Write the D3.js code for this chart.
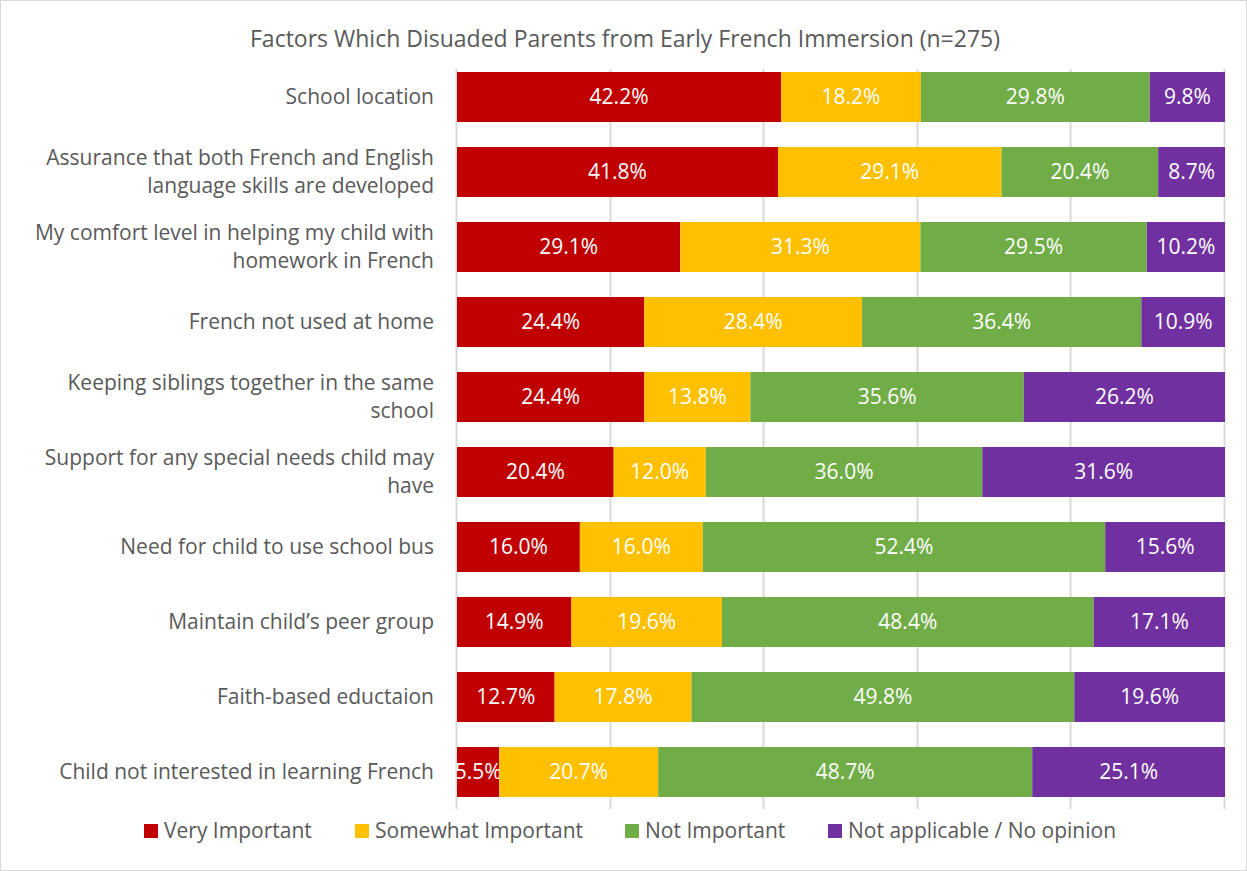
<!DOCTYPE html>
<html>
<head>
<meta charset="utf-8">
<script src="https://cdn.jsdelivr.net/npm/d3@7"></script>
<style>
  body { margin: 0; background: #fff; }
  svg { font-family: "Open Sans", sans-serif; }
</style>
</head>
<body>
<svg id="chart"></svg>
<script>
// Chart size
var width = 1247;
var height = 871;

// Data
var categories = [
    ["School location"],
    ["Assurance that both French and English", "language skills are developed"],
    ["My comfort level in helping my child with", "homework in French"],
    ["French not used at home"],
    ["Keeping siblings together in the same", "school"],
    ["Support for any special needs child may", "have"],
    ["Need for child to use school bus"],
    ["Maintain child\u2019s peer group"],
    ["Faith-based eductaion"],
    ["Child not interested in learning French"]
];
var seriesNames = ["Very Important", "Somewhat Important", "Not Important", "Not applicable / No opinion"];
var veryImportant = [42.2, 41.8, 29.1, 24.4, 24.4, 20.4, 16.0, 14.9, 12.7, 5.5];
var somewhatImportant = [18.2, 29.1, 31.3, 28.4, 13.8, 12.0, 16.0, 19.6, 17.8, 20.7];
var notImportant = [29.8, 20.4, 29.5, 36.4, 35.6, 36.0, 52.4, 48.4, 49.8, 48.7];
var notApplicable = [9.8, 8.7, 10.2, 10.9, 26.2, 31.6, 15.6, 17.1, 19.6, 25.1];
var colors = ["#C00000", "#FFC000", "#70AD47", "#7030A0"];
var ticks = [0, 0.2, 0.4, 0.6, 0.8, 1];

// Build rows for the stack
var rows = categories.map(function (c, i) {
    return { idx: i, s0: veryImportant[i], s1: somewhatImportant[i], s2: notImportant[i], s3: notApplicable[i] };
});
var keys = ["s0", "s1", "s2", "s3"];
var stacked = d3.stack().keys(keys).offset(d3.stackOffsetExpand)(rows);

var svg = d3.select("#chart")
    .attr("width", width)
    .attr("height", height);

// Chart border
svg.append("rect")
    .attr("x", 0.5).attr("y", 0.5)
    .attr("width", width - 1).attr("height", height - 1)
    .attr("fill", "#fff")
    .attr("stroke", "#d9d9d9");

var x = d3.scaleLinear().domain([0, 1]).range([457, 1225]);
var y = d3.scaleBand()
    .domain(d3.range(categories.length))
    .range([59.5, 809.5])
    .paddingInner(1 / 3)
    .paddingOuter(1 / 6);

// Title
svg.append("text")
    .attr("x", 625).attr("y", 47)
    .attr("text-anchor", "middle")
    .attr("fill", "#595959")
    .style("font-size", "23px")
    .text("Factors Which Disuaded Parents from Early French Immersion (n=275)");

// Gridlines
svg.append("g")
    .selectAll("line")
    .data(ticks)
    .enter().append("line")
    .attr("x1", function (d) { return Math.round(x(d)) - 0.5; })
    .attr("x2", function (d) { return Math.round(x(d)) - 0.5; })
    .attr("y1", 69)
    .attr("y2", 809)
    .attr("stroke", "#d9d9d9")
    .attr("stroke-width", 2);

// Bars
var layers = svg.append("g")
    .selectAll("g")
    .data(stacked)
    .enter().append("g")
    .attr("fill", function (d, i) { return colors[i]; });

layers.selectAll("rect")
    .data(function (d) { return d; })
    .enter().append("rect")
    .attr("x", function (d) { return x(d[0]); })
    .attr("y", function (d) { return y(d.data.idx); })
    .attr("width", function (d) { return x(d[1]) - x(d[0]); })
    .attr("height", y.bandwidth());

// Value labels
layers.selectAll("text")
    .data(function (d) { return d.map(function (p) { return { p: p, key: d.key }; }); })
    .enter().append("text")
    .attr("x", function (d) { return (x(d.p[0]) + x(d.p[1])) / 2; })
    .attr("y", function (d) { return y(d.p.data.idx) + y.bandwidth() / 2; })
    .attr("dy", "0.35em")
    .attr("text-anchor", "middle")
    .attr("fill", "#fff")
    .style("font-size", "21px")
    .text(function (d) { return d.p.data[d.key].toFixed(1) + "%"; });

// Category labels
var lineGap = 28;
var catLabels = svg.append("g")
    .selectAll("text")
    .data(categories)
    .enter().append("text")
    .attr("text-anchor", "end")
    .attr("fill", "#595959")
    .style("font-size", "21px")
    .attr("y", function (d, i) { return y(i) + y.bandwidth() / 2 + 7 - (d.length - 1) * lineGap / 2; });

catLabels.selectAll("tspan")
    .data(function (d) { return d; })
    .enter().append("tspan")
    .attr("x", 434)
    .attr("dy", function (t, j) { return j === 0 ? 0 : lineGap; })
    .text(function (t) { return t; });

// Legend
var legendX = [144, 355, 625, 828];
var legend = svg.append("g")
    .selectAll("g")
    .data(seriesNames)
    .enter().append("g")
    .attr("transform", function (d, i) { return "translate(" + legendX[i] + ",824)"; });

legend.append("rect")
    .attr("width", 14).attr("height", 14)
    .attr("fill", function (d, i) { return colors[i]; });

legend.append("text")
    .attr("x", 20).attr("y", 14)
    .attr("fill", "#595959")
    .style("font-size", "21px")
    .text(function (d) { return d; });
</script>
</body>
</html>
